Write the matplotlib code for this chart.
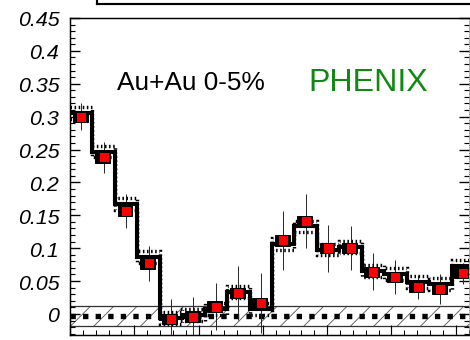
import numpy as np
import matplotlib.pyplot as plt
from matplotlib.lines import Line2D
from matplotlib.patches import Rectangle

# 18 bins in delta-phi, 0..pi
edges = np.linspace(0, np.pi, 19)
centers = 0.5 * (edges[:-1] + edges[1:])

# measured points, stat. errors and the model histogram
data_y = [0.300, 0.238, 0.157, 0.077, -0.008, -0.004, 0.011, 0.032, 0.017,
          0.112, 0.141, 0.100, 0.100, 0.064, 0.056, 0.041, 0.038, 0.062]
data_err = [0.020, 0.023, 0.026, 0.027, 0.030, 0.030, 0.036, 0.041, 0.046,
            0.045, 0.041, 0.036, 0.033, 0.028, 0.026, 0.018, 0.023, 0.016]
model_y = [0.306, 0.247, 0.167, 0.087, -0.006, -0.002, 0.008, 0.033, 0.008,
           0.106, 0.133, 0.098, 0.102, 0.065, 0.061, 0.048, 0.045, 0.073]
model_sys = 0.009
data_sys = 0.008

band_lo, band_hi = -0.019, 0.012   # normalisation uncertainty band
zero_level = -0.003

plt.rcParams['font.family'] = ['Liberation Sans', 'DejaVu Sans']
plt.rcParams['hatch.linewidth'] = 0.9

W, H, DPI = 470, 341, 70
fig = plt.figure(figsize=(W / DPI, H / DPI), dpi=DPI)
ax = fig.add_axes([70 / W, 5 / H, 399 / W, 317 / H])

ax.set_xlim(0, np.pi * 399 / 404)
ax.set_ylim(-0.032, 0.45)

# hatched band around zero
ax.axhspan(band_lo, band_hi, facecolor='none', edgecolor='0.35', hatch='/',
           lw=0, zorder=1)
ax.axhline(band_lo, color='0.2', lw=1.3, zorder=1)
ax.axhline(band_hi, color='0.2', lw=1.3, zorder=1)
ax.axhline(zero_level, color='black', lw=5.5, dashes=(1.0, 1.35),
           dash_capstyle='butt', zorder=2)

# statistical error bars
ax.errorbar(centers, data_y, yerr=data_err, fmt='none', ecolor='0.15',
            elinewidth=1.0, capsize=0, zorder=3)

# model histogram with its systematic envelope
my = np.array(model_y)
ax.stairs(my, edges, baseline=None, color='black', lw=4.2, zorder=4)
for sgn in (1, -1):
    ax.stairs(my + sgn * model_sys, edges, baseline=None, color='black',
              lw=3.5, linestyle=(0, (0.45, 0.75)), zorder=4)

# systematic boxes and data points
bw = edges[1] - edges[0]
for xc, yc in zip(centers, data_y):
    ax.add_patch(Rectangle((xc - 0.38 * bw, yc - data_sys), 0.66 * bw,
                           2 * data_sys, facecolor='black', edgecolor='black',
                           lw=1, zorder=5))
ax.plot(centers, data_y, 's', ms=10, mfc='red', mec='black', mew=1.0,
        zorder=6)

ax.text(0.365, 0.353, 'Au+Au 0-5%', fontsize=27, color='black',
        va='center', ha='left')
ax.text(2.32, 0.353, 'PHENIX', fontsize=33, color='#118811',
        va='center', ha='center')

# axes styling
ax.set_yticks(np.arange(0, 0.451, 0.05))
ax.set_yticklabels(['0', '0.05', '0.1', '0.15', '0.2', '0.25', '0.3',
                    '0.35', '0.4', '0.45'], fontsize=22, style='italic')
ax.set_yticks(np.arange(-0.03, 0.451, 0.01), minor=True)
ax.set_xticks(np.arange(0, 3.01, 0.5))
ax.set_xticks(np.arange(0, 3.11, 0.1), minor=True)
ax.tick_params(axis='y', which='major', direction='in', length=10, width=1.4,
               pad=11, right=True)
ax.tick_params(axis='y', which='minor', direction='in', length=5, width=1.2,
               right=True)
ax.tick_params(axis='x', which='major', direction='in', length=10, width=1.2,
               labelbottom=False)
ax.tick_params(axis='x', which='minor', direction='in', length=5, width=1.0)
for side in ('left', 'top', 'bottom'):
    ax.spines[side].set_linewidth(1.5)
ax.spines['right'].set_linestyle(':')
ax.spines['right'].set_color('0.5')

# frame of the panel above
fig.add_artist(Line2D([97 / W, 1], [1 - 5 / H, 1 - 5 / H], color='black',
                      lw=2.2))
fig.add_artist(Line2D([97 / W, 97 / W], [1 - 5 / H, 1], color='black',
                      lw=2.2))

fig.savefig('out.png', dpi=DPI)
